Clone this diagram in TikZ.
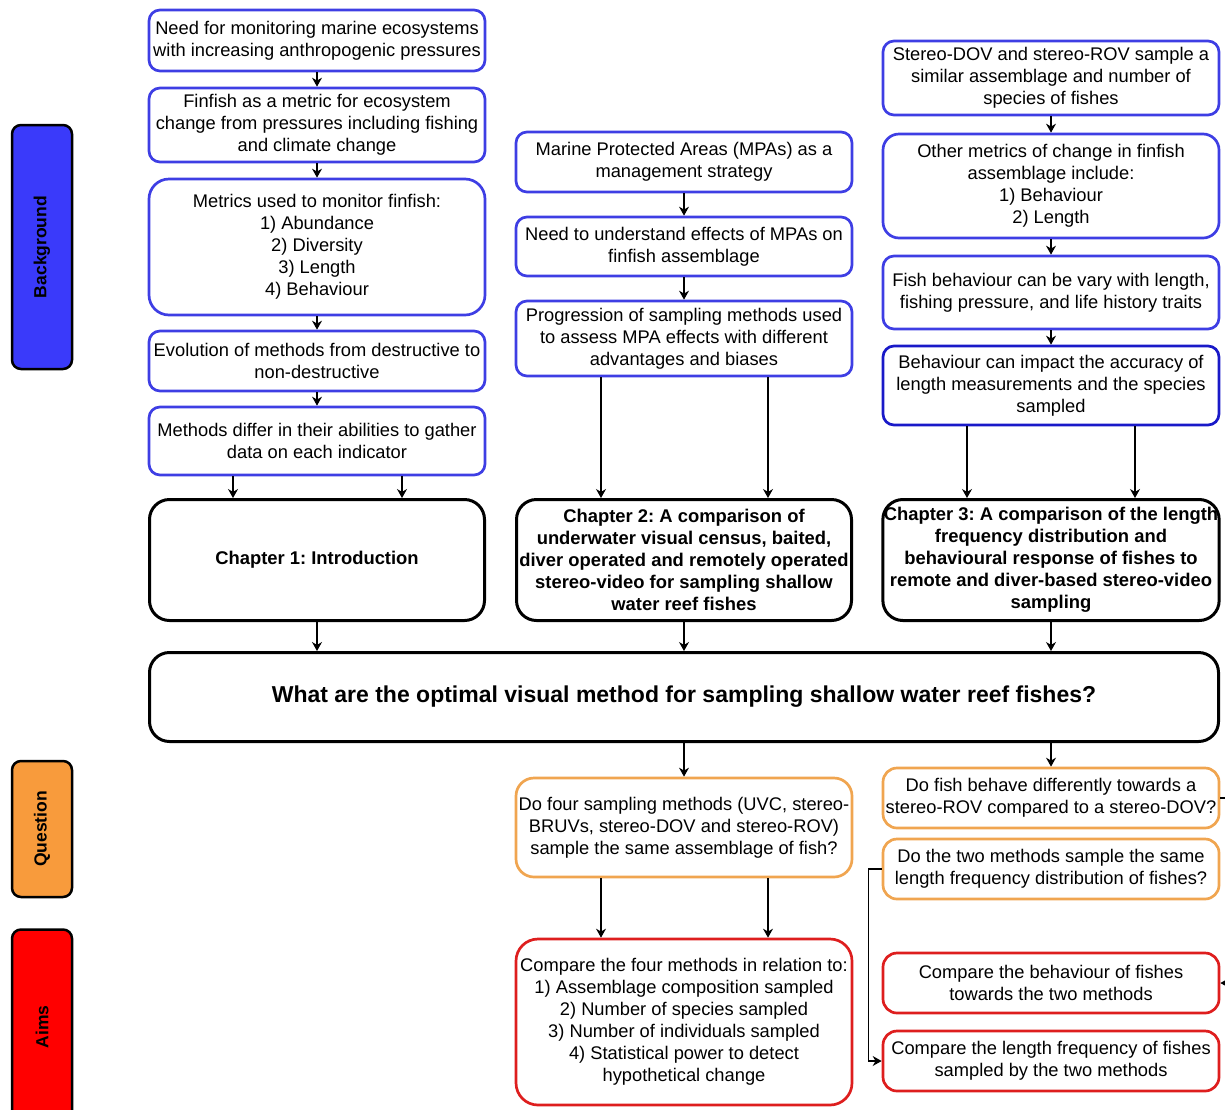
\documentclass[tikz,border=0pt]{standalone}
\usepackage{fontspec}
\setmainfont{Liberation Sans}
\usetikzlibrary{arrows.meta}
\definecolor{boxblue}{RGB}{62,62,228}
\definecolor{darkblue}{RGB}{25,25,200}
\definecolor{labelblue}{RGB}{58,58,250}
\definecolor{qorange}{RGB}{240,165,80}
\definecolor{labelorange}{RGB}{248,155,60}
\definecolor{aimred}{RGB}{222,30,30}
\definecolor{labelred}{RGB}{255,0,0}
\frenchspacing
\begin{document}
\begin{tikzpicture}[x=1pt,y=-1pt,
  every node/.style={align=center,font=\fontsize{18.3}{22}\selectfont},
  bluebox/.style={draw=boxblue,line width=2.7pt,rounded corners=11pt,minimum width=336pt,inner sep=1pt},
  chapbox/.style={draw=black,line width=3pt,rounded corners=20pt,minimum width=335pt,minimum height=121pt,inner sep=1pt,font=\fontsize{18.4}{22}\selectfont\bfseries},
  qbox/.style={draw=qorange,line width=2.7pt,rounded corners=14pt,minimum width=336pt,inner sep=1pt},
  aimbox/.style={draw=aimred,line width=2.7pt,rounded corners=14pt,minimum width=336pt,inner sep=1pt},
  sidelabel/.style={draw=black,line width=2.5pt,rounded corners=9pt,rotate=90,minimum height=60pt,inner sep=1pt,font=\fontsize{17.5}{21}\selectfont\bfseries},
  arr/.style={-{Stealth[length=9pt,width=10pt]},line width=1.2pt}]
  \clip (0,0) rectangle (1225,1109);

  % side labels
  \node[sidelabel,fill=labelblue,minimum width=244pt] (bg) at (42,247) {Background};
  \node[sidelabel,fill=labelorange,minimum width=136pt] (qu) at (42,829) {Question};
  \node[sidelabel,fill=labelred,minimum width=195pt] (ai) at (42,1027) {Aims};

  % chapter 1 column
  \node[bluebox,minimum height=61pt] (L1) at (317,40.5) {Need for monitoring marine ecosystems\\with increasing anthropogenic pressures};
  \node[bluebox,minimum height=74pt] (L2) at (317,125) {Finfish as a metric for ecosystem\\change from pressures including fishing\\and climate change};
  \node[bluebox,minimum height=136pt,rounded corners=20pt] (L3) at (317,247) {Metrics used to monitor finfish:\\1) Abundance\\2) Diversity\\3) Length\\4) Behaviour};
  \node[bluebox,minimum height=60pt] (L4) at (317,361) {Evolution of methods from destructive to\\non-destructive};
  \node[bluebox,minimum height=68pt] (L5) at (317,441) {Methods differ in their abilities to gather\\data on each indicator};
  \node[chapbox] (ch1) at (317,560) {Chapter 1: Introduction};

  % chapter 2 column
  \node[bluebox,minimum height=60pt] (M1) at (684,162) {Marine Protected Areas (MPAs) as a\\management strategy};
  \node[bluebox,minimum height=59pt] (M2) at (684,246.5) {Need to understand effects of MPAs on\\finfish assemblage};
  \node[bluebox,minimum height=75pt] (M3) at (684,338.5) {Progression of sampling methods used\\to assess MPA effects with different\\advantages and biases};
  \node[chapbox] (ch2) at (684,560) {Chapter 2: A comparison of\\underwater visual census, baited,\\diver operated and remotely operated\\stereo-video for sampling shallow\\water reef fishes};

  % chapter 3 column
  \node[bluebox,minimum height=74pt] (R1) at (1051,78) {Stereo-DOV and stereo-ROV sample a\\similar assemblage and number of\\species of fishes};
  \node[bluebox,minimum height=104pt,rounded corners=16pt] (R2) at (1051,186) {Other metrics of change in finfish\\assemblage include:\\1) Behaviour\\2) Length};
  \node[bluebox,minimum height=73pt] (R3) at (1051,292.5) {Fish behaviour can be vary with length,\\fishing pressure, and life history traits};
  \node[bluebox,draw=darkblue,minimum height=79pt] (R4) at (1051,385.5) {Behaviour can impact the accuracy of\\length measurements and the species\\sampled};
  \node[chapbox] (ch3) at (1051,560) {Chapter 3: A comparison of the length\\frequency distribution and\\behavioural response of fishes to\\remote and diver-based stereo-video\\sampling};

  % thesis question
  \node[chapbox,minimum width=1069pt,minimum height=89pt,font=\fontsize{23}{27}\selectfont\bfseries] (main) at (684,697) {What are the optimal visual method for sampling shallow water reef fishes?};

  % questions and aims
  \node[qbox,minimum height=99pt,rounded corners=18pt] (Q1) at (684,827.5) {Do four sampling methods (UVC, stereo-\\BRUVs, stereo-DOV and stereo-ROV)\\sample the same assemblage of fish?};
  \node[aimbox,minimum height=166pt,rounded corners=22pt] (A1) at (684,1022) {Compare the four methods in relation to:\\1) Assemblage composition sampled\\2) Number of species sampled\\3) Number of individuals sampled\\4) Statistical power to detect\\hypothetical change};
  \node[qbox,minimum height=60pt] (Q2) at (1051,798) {Do fish behave differently towards a\\stereo-ROV compared to a stereo-DOV?};
  \node[qbox,minimum height=60pt] (Q3) at (1051,869) {Do the two methods sample the same\\length frequency distribution of fishes?};
  \node[aimbox,minimum height=60pt] (A2) at (1051,983) {Compare the behaviour of fishes\\towards the two methods};
  \node[aimbox,minimum height=60pt] (A3) at (1051,1061) {Compare the length frequency of fishes\\sampled by the two methods};

  % connectors
  \draw[arr] (L1) -- (L2);
  \draw[arr] (L2) -- (L3);
  \draw[arr] (L3) -- (L4);
  \draw[arr] (L4) -- (L5);
  \draw[arr] ([xshift=-84pt]L5.south) -- ([xshift=-84pt]ch1.north);
  \draw[arr] ([xshift=85pt]L5.south) -- ([xshift=85pt]ch1.north);
  \draw[arr] (M1) -- (M2);
  \draw[arr] (M2) -- (M3);
  \draw[arr] ([xshift=-83pt]M3.south) -- ([xshift=-83pt]ch2.north);
  \draw[arr] ([xshift=84pt]M3.south) -- ([xshift=84pt]ch2.north);
  \draw[arr] (R1) -- (R2);
  \draw[arr] (R2) -- (R3);
  \draw[arr] (R3) -- (R4);
  \draw[arr] ([xshift=-84pt]R4.south) -- ([xshift=-84pt]ch3.north);
  \draw[arr] ([xshift=84pt]R4.south) -- ([xshift=84pt]ch3.north);
  \draw[arr] (ch1.south) -- (ch1.south |- main.north);
  \draw[arr] (ch2.south) -- (ch2.south |- main.north);
  \draw[arr] (ch3.south) -- (ch3.south |- main.north);
  \draw[arr] (main.south -| Q1.north) -- (Q1.north);
  \draw[arr] (main.south -| Q2.north) -- (Q2.north);
  \draw[arr] ([xshift=-83pt]Q1.south) -- ([xshift=-83pt]A1.north);
  \draw[arr] ([xshift=84pt]Q1.south) -- ([xshift=84pt]A1.north);
  \draw[arr] (Q2.east) -- ++(14,0) |- (A2.east);
  \draw[arr] (Q3.west) -- ++(-13,0) |- (A3.west);
\end{tikzpicture}
\end{document}
